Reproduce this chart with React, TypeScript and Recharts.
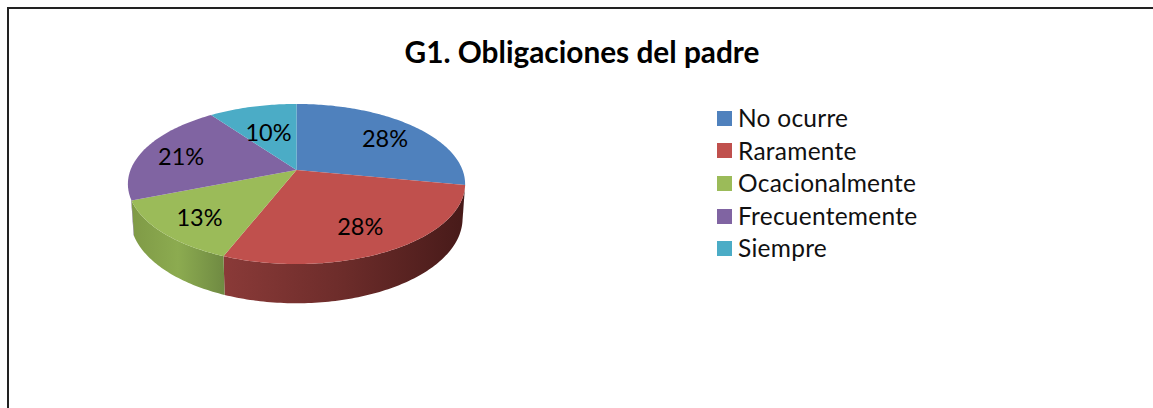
import React from 'react';
import { PieChart, Pie, Legend } from 'recharts';

const categories = ['No ocurre', 'Raramente', 'Ocacionalmente', 'Frecuentemente', 'Siempre'];
const shares = [28, 28, 13, 21, 10];
const colors = ['#4f81bd', '#c0504d', '#9bbb59', '#8064a2', '#4bacc6'];
// side wall gradient stops, left to right
const wallLeft = ['#34567e', '#8a3a38', '#7f9a46', '#55436c', '#32738a'];
const wallMid = ['#34567e', '#6c2c2a', '#8cab50', '#55436c', '#32738a'];
const wallRight = ['#34567e', '#471a19', '#6f8a42', '#55436c', '#32738a'];

const tableData = categories.map((name, i) => ({ name, value: shares[i], fill: colors[i] }));

// how far out along the slice each label sits
const labelFraction = [0.75, 0.71, 0.75, 0.75, 0.6];

const WIDTH = 1153;
const HEIGHT = 408;
const TILT = 0.4675; // vertical squash of the disc
const PERSPECTIVE = 0.175;
const DEPTH = 33.5;
const FONT = 'Lato, Carlito, sans-serif';

// clockwise degrees from 12 o'clock -> tilted disc position
const project = (cx: number, cy: number, r: number, theta: number, frac = 1) => {
  const rad = (theta * Math.PI) / 180;
  const u = Math.sin(rad) * frac;
  const v = Math.cos(rad) * frac;
  const den = 1 + PERSPECTIVE * v;
  return { x: cx + (r * u) / den, y: cy - (r * TILT * v) / den, den };
};

const projectLower = (cx: number, cy: number, r: number, theta: number) => {
  const p = project(cx, cy, r * 0.985, theta);
  return { x: p.x, y: p.y + DEPTH / p.den };
};

const rimPoints = (
  fn: (theta: number) => { x: number; y: number },
  from: number,
  to: number,
) => {
  const pts: string[] = [];
  const steps = Math.max(2, Math.ceil(Math.abs(to - from)));
  for (let s = 0; s <= steps; s++) {
    const p = fn(from + ((to - from) * s) / steps);
    pts.push(`${p.x.toFixed(2)} ${p.y.toFixed(2)}`);
  }
  return pts;
};

const Slice3D = (props: any) => {
  const { cx, cy, outerRadius, startAngle, endAngle, index, fill } = props;
  const a = 90 - startAngle;
  const b = 90 - endAngle;
  const top = (t: number) => project(cx, cy, outerRadius, t);
  const low = (t: number) => projectLower(cx, cy, outerRadius, t);

  const topPath = `M ${cx} ${cy} L ${rimPoints(top, a, b).join(' L ')} Z`;

  // only the near part of the rim has a visible wall
  const wallFrom = Math.max(a, 100);
  const wallTo = Math.min(b, 249);
  const gradId = `wall-${index}`;
  const hasWall = wallTo > wallFrom;
  const wallPath = hasWall
    ? `M ${rimPoints(top, wallFrom, wallTo).join(' L ')} L ${rimPoints(low, wallTo, wallFrom).join(' L ')} Z`
    : '';

  return (
    <g>
      {hasWall && (
        <>
          <defs>
            <linearGradient id={gradId} x1="0" y1="0" x2="1" y2="0">
              <stop offset="0%" stopColor={wallLeft[index]} />
              <stop offset="50%" stopColor={wallMid[index]} />
              <stop offset="100%" stopColor={wallRight[index]} />
            </linearGradient>
          </defs>
          <path d={wallPath} fill={`url(#${gradId})`} />
        </>
      )}
      <path d={topPath} fill={fill} />
    </g>
  );
};

const SliceLabel = (props: any) => {
  const { cx, cy, outerRadius, midAngle, index, value } = props;
  const p = project(cx, cy, outerRadius, 90 - midAngle, labelFraction[index]);
  return (
    <text x={p.x} y={p.y + 2} textAnchor="middle" dominantBaseline="central" fontFamily={FONT} fontSize={23.5} fill="#000">
      {`${value}%`}
    </text>
  );
};

const LegendList = ({ payload }: any) => (
  <div style={{ fontFamily: FONT, fontSize: 24.5, color: '#111', letterSpacing: 0.25 }}>
    {(payload ?? []).map((item: any) => (
      <div key={item.value} style={{ height: 32.6, lineHeight: '32.6px', display: 'flex', alignItems: 'center', whiteSpace: 'nowrap' }}>
        <span style={{ width: 15, height: 15, background: item.color, marginRight: 6, display: 'block' }} />
        {item.value}
      </div>
    ))}
  </div>
);

export default function App() {
  return (
    <div style={{ position: 'absolute', left: 0, top: 0, width: WIDTH, height: HEIGHT, background: '#fff', overflow: 'hidden' }}>
      <div style={{ position: 'absolute', left: 7, top: 7, width: WIDTH, height: HEIGHT, borderTop: '2px solid #222', borderLeft: '2px solid #222' }} />
      <PieChart width={WIDTH} height={HEIGHT} margin={{ top: 0, right: 0, bottom: 0, left: 0 }} style={{ position: 'absolute', left: 0, top: 0 }}>
        <text x={582} y={51} textAnchor="middle" dominantBaseline="central" fontFamily={FONT} fontWeight={700} fontSize={29.8} fill="#000">
          G1. Obligaciones del padre
        </text>
        <Pie
          data={tableData}
          dataKey="value"
          nameKey="name"
          cx={296.5}
          cy={170}
          innerRadius={0}
          outerRadius={166}
          startAngle={90}
          endAngle={-270}
          stroke="none"
          shape={Slice3D}
          label={SliceLabel}
          labelLine={false}
          isAnimationActive={false}
        />
        <Legend
          layout="vertical"
          align="right"
          verticalAlign="top"
          itemSorter={null}
          content={LegendList}
          wrapperStyle={{ left: 717, right: 'auto', top: 102, width: 260 }}
        />
      </PieChart>
    </div>
  );
}
